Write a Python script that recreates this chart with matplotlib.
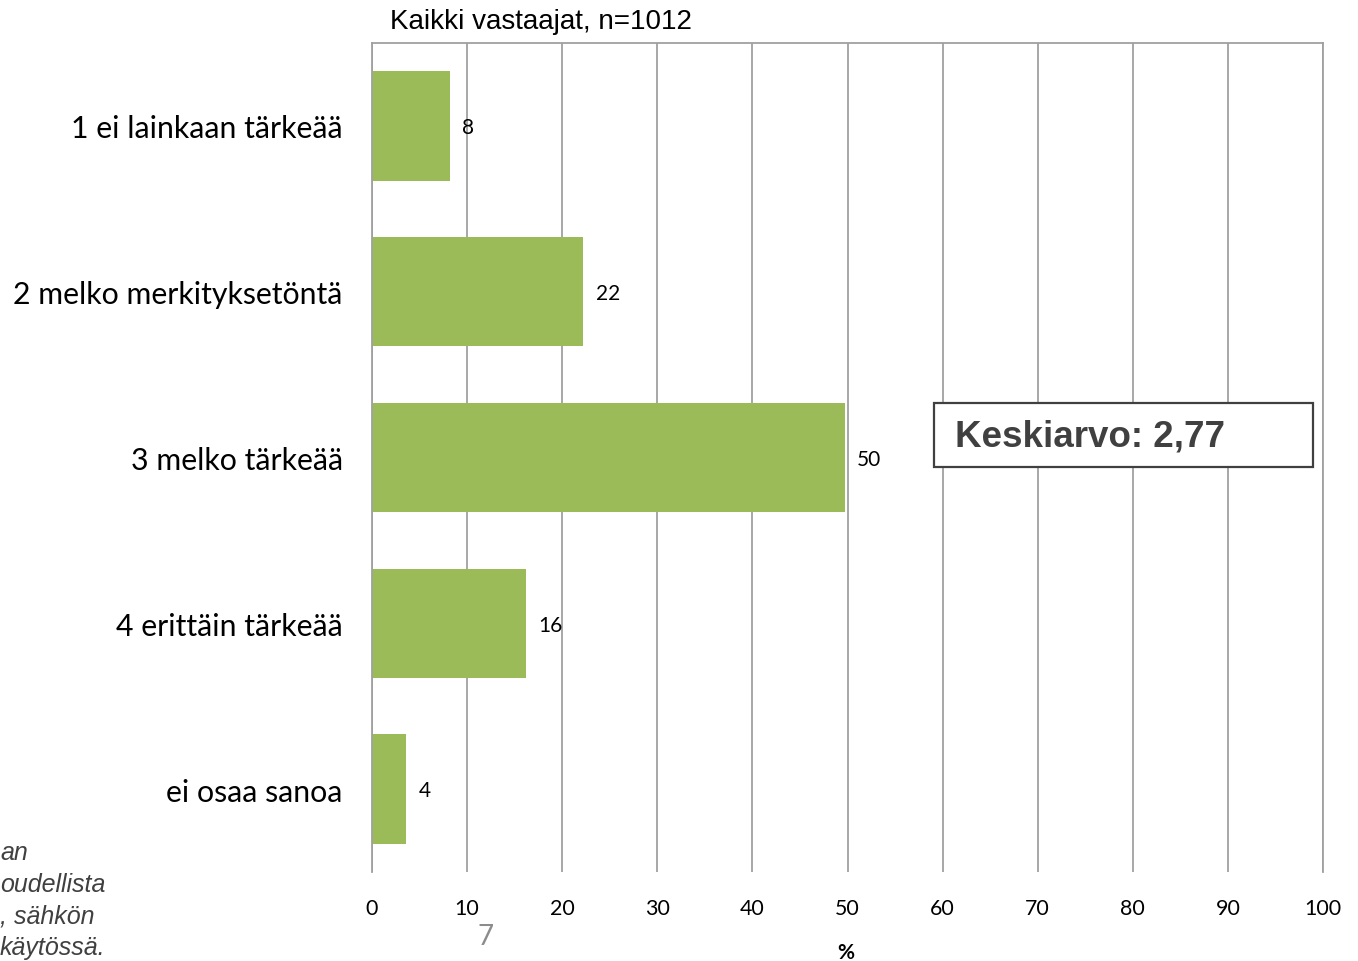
import matplotlib.pyplot as plt
from matplotlib.patches import Rectangle

# data
categories = ['1 ei lainkaan tärkeää', '2 melko merkityksetöntä', '3 melko tärkeää',
              '4 erittäin tärkeää', 'ei osaa sanoa']
values = [8.2, 22.2, 49.7, 16.2, 3.6]
labels = ['8', '22', '50', '16', '4']
xticks = [0, 10, 20, 30, 40, 50, 60, 70, 80, 90, 100]

fig = plt.figure(figsize=(13.58, 9.62), dpi=100)
ax = fig.add_axes([372/1358, 1-873/962, (1323-372)/1358, (873-44)/962])

ypos = list(range(len(categories)))
ax.barh(ypos, values, height=0.66, color='#9BBB59', zorder=3)
ax.set_ylim(len(categories)-0.5, -0.5)
ax.set_xlim(0, 100)

for y, v, t in zip(ypos, values, labels):
    ax.annotate(t, (v, y), xytext=(9, -1), textcoords='offset points',
                va='center', ha='left', fontsize=15, family='Lato', color='black')

ax.set_yticks(ypos)
ax.set_yticklabels(categories, fontsize=21.8, family='Lato')
ax.set_xticks(xticks)
ax.set_xticklabels([str(x) for x in xticks], fontsize=15.4, family='Lato')
ax.tick_params(axis='y', length=0, pad=21)
ax.tick_params(axis='x', length=0, pad=19)

ax.grid(axis='x', color='#a0a0a0', linewidth=1.3, zorder=0)
for s in ['top', 'right', 'left']:
    ax.spines[s].set_color('#a0a0a0')
    ax.spines[s].set_linewidth(1.3)
ax.spines['bottom'].set_visible(False)
ax.spines['left'].set_zorder(4)

fig.text(390/1358, 1-22/962, 'Kaikki vastaajat, n=1012', fontsize=20,
         family='Liberation Sans', va='center', ha='left')

fig.text(846/1358, 1-953/962, '%', fontsize=15, fontweight='bold', family='Lato',
         va='center', ha='center')
fig.text(486/1358, 1-937/962, '7', fontsize=20, family='Lato', color='#8c8c8c',
         va='center', ha='center')

# mean value box
fig.patches.append(Rectangle((934/1358, 1-468/962), (1313-934)/1358, 64/962,
                             transform=fig.transFigure, facecolor='white',
                             edgecolor='#404040', linewidth=1.6, zorder=5))
fig.text(955/1358, 1-437/962, 'Keskiarvo: 2,77', fontsize=26.5, fontweight='bold',
         family='Liberation Sans', color='#404040', va='center', ha='left', zorder=6)

# cut-off note on the left edge
note = ['an', 'oudellista', ', sähkön', 'käytössä.']
note_y = [853, 885, 917, 948]
for t, y in zip(note, note_y):
    fig.text(0, 1-y/962, t, fontsize=18, style='italic', family='Liberation Sans',
             color='#404040', va='center', ha='left')

fig.savefig('out.png', dpi=100)
